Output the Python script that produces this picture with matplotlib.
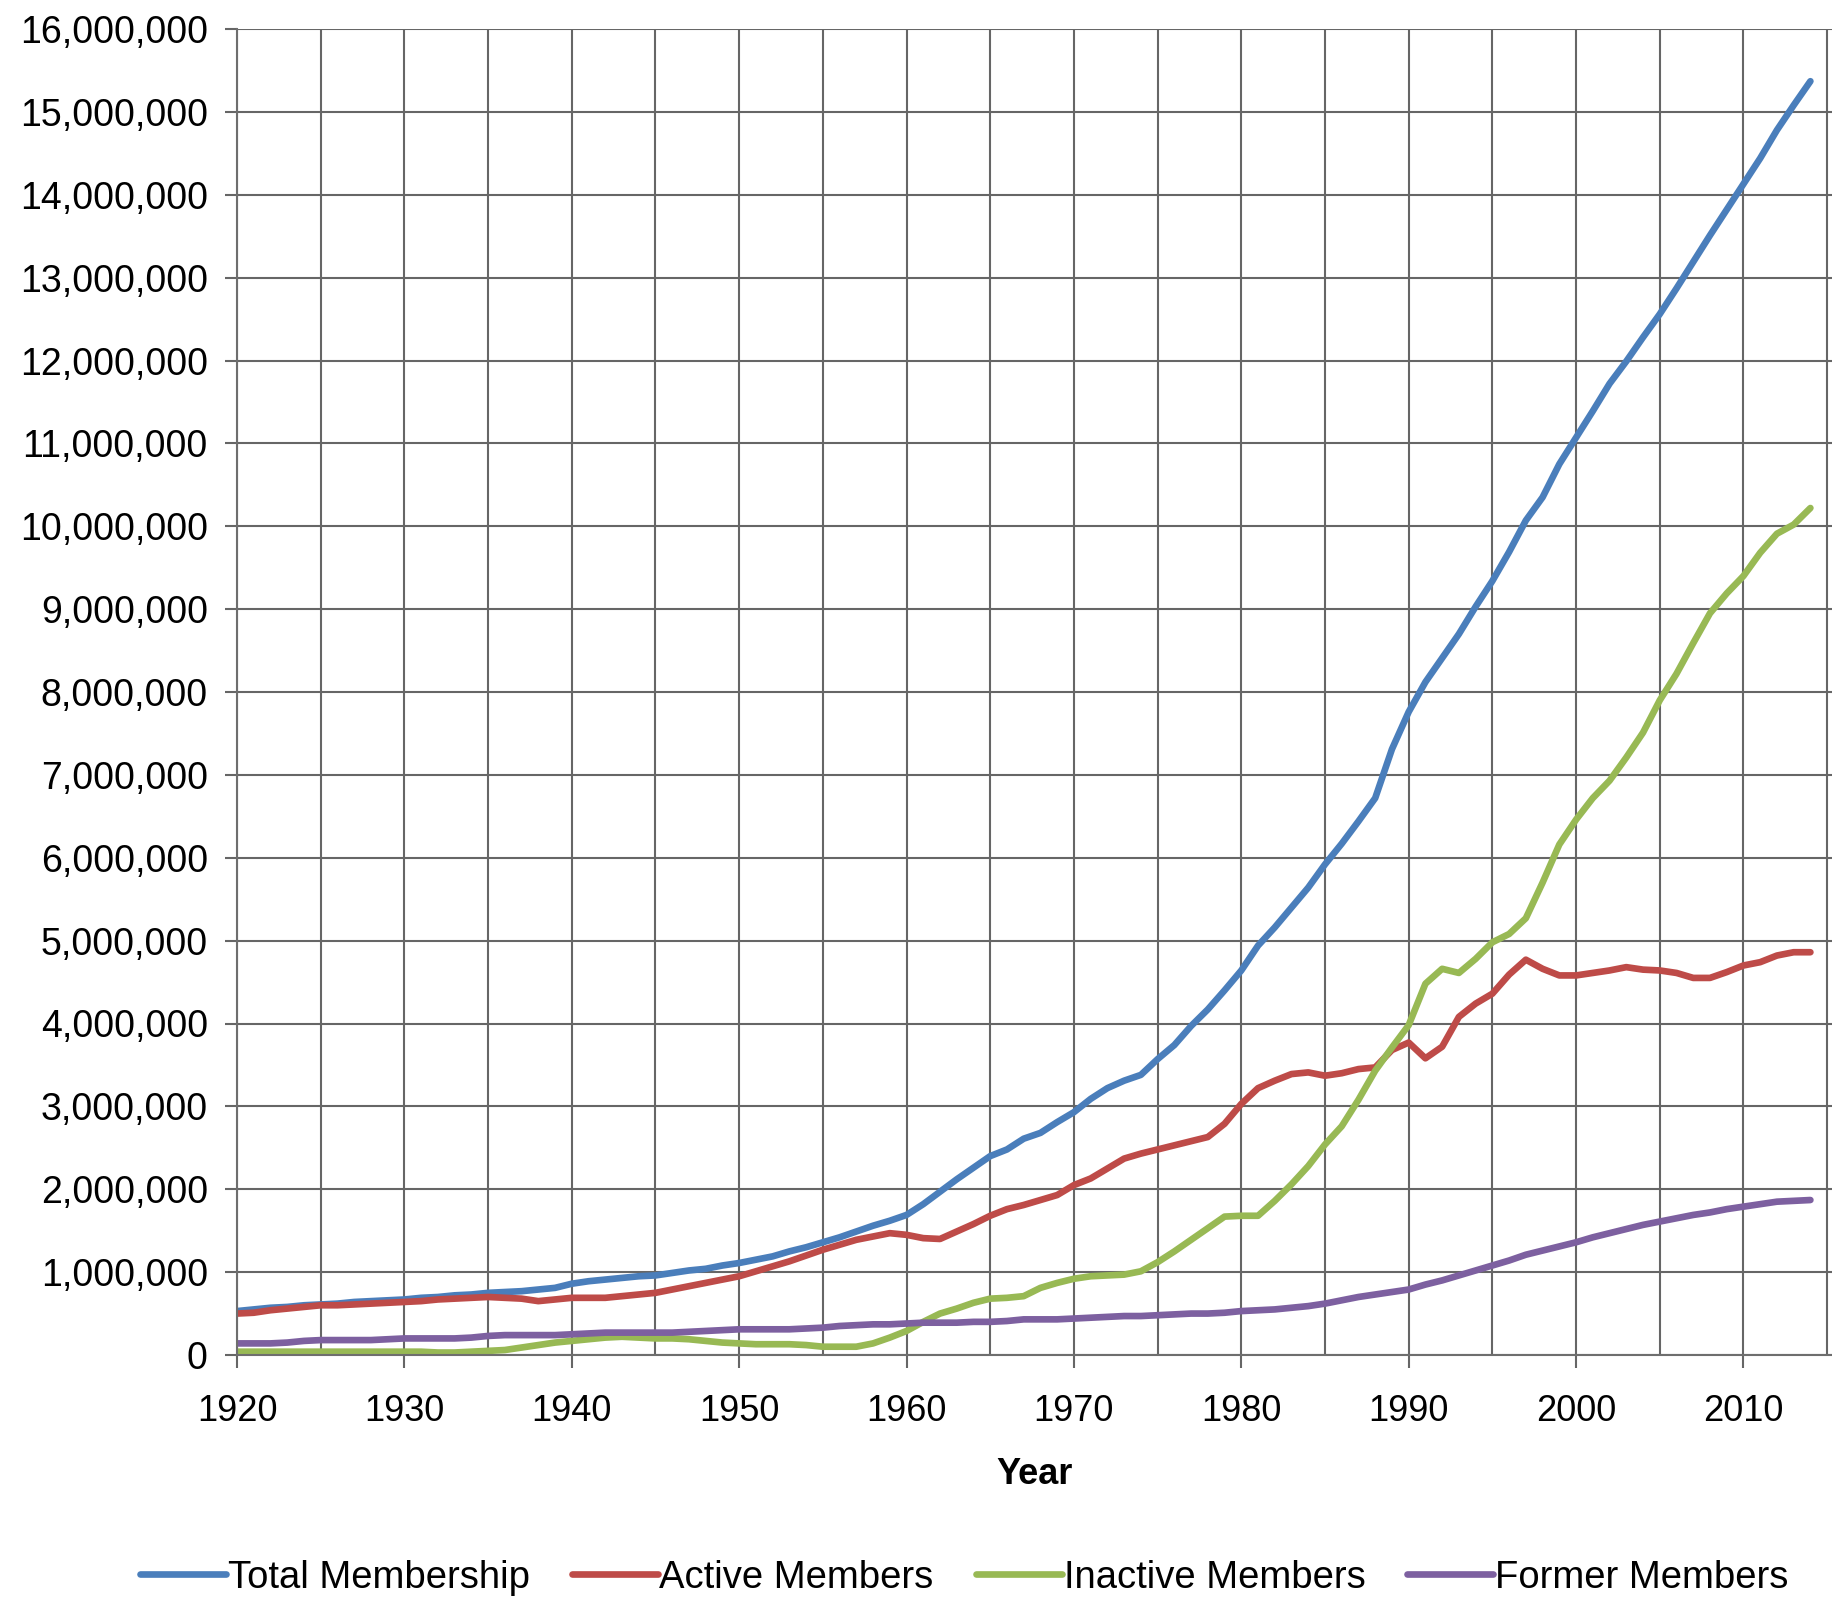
import numpy as np
import matplotlib
matplotlib.use('Agg')
import matplotlib.pyplot as plt
import matplotlib as mpl
from matplotlib.ticker import FuncFormatter, MultipleLocator

# data (millions)
years = list(range(1920, 2015))

total = [0.53, 0.55, 0.57, 0.58, 0.60, 0.61, 0.62, 0.64, 0.65, 0.66,
         0.67, 0.69, 0.70, 0.72, 0.73, 0.75, 0.76, 0.77, 0.79, 0.81,
         0.86, 0.89, 0.91, 0.93, 0.95, 0.96, 0.99, 1.02, 1.04, 1.08,
         1.11, 1.15, 1.19, 1.25, 1.30, 1.36, 1.42, 1.49, 1.56, 1.62,
         1.69, 1.82, 1.97, 2.12, 2.26, 2.40, 2.48, 2.61, 2.68, 2.81,
         2.93, 3.09, 3.22, 3.31, 3.38, 3.57, 3.74, 3.97, 4.17, 4.40,
         4.64, 4.94, 5.16, 5.40, 5.64, 5.92, 6.17, 6.44, 6.72, 7.31,
         7.76, 8.12, 8.41, 8.70, 9.03, 9.34, 9.69, 10.07, 10.35, 10.75,
         11.07, 11.39, 11.72, 11.99, 12.28, 12.56, 12.87, 13.19, 13.51, 13.82,
         14.13, 14.44, 14.78, 15.08, 15.37]

active = [0.50, 0.51, 0.54, 0.56, 0.58, 0.60, 0.60, 0.61, 0.62, 0.63,
          0.64, 0.65, 0.67, 0.68, 0.69, 0.70, 0.69, 0.68, 0.65, 0.67,
          0.69, 0.69, 0.69, 0.71, 0.73, 0.75, 0.79, 0.83, 0.87, 0.91,
          0.95, 1.01, 1.07, 1.13, 1.20, 1.27, 1.33, 1.39, 1.43, 1.47,
          1.45, 1.41, 1.40, 1.49, 1.58, 1.68, 1.76, 1.81, 1.87, 1.93,
          2.05, 2.13, 2.25, 2.37, 2.43, 2.48, 2.53, 2.58, 2.63, 2.79,
          3.03, 3.22, 3.31, 3.39, 3.41, 3.37, 3.40, 3.45, 3.47, 3.68,
          3.77, 3.58, 3.72, 4.08, 4.24, 4.36, 4.59, 4.77, 4.66, 4.58,
          4.58, 4.61, 4.64, 4.68, 4.65, 4.64, 4.61, 4.55, 4.55, 4.62,
          4.70, 4.74, 4.82, 4.86, 4.86]

inactive = [0.04, 0.04, 0.04, 0.04, 0.04, 0.04, 0.04, 0.04, 0.04, 0.04,
            0.04, 0.04, 0.03, 0.03, 0.04, 0.05, 0.06, 0.09, 0.12, 0.15,
            0.17, 0.19, 0.21, 0.22, 0.21, 0.20, 0.20, 0.19, 0.17, 0.15,
            0.14, 0.13, 0.13, 0.13, 0.12, 0.10, 0.10, 0.10, 0.14, 0.21,
            0.29, 0.40, 0.50, 0.56, 0.63, 0.68, 0.69, 0.71, 0.81, 0.87,
            0.92, 0.95, 0.96, 0.97, 1.01, 1.12, 1.25, 1.39, 1.53, 1.67,
            1.68, 1.68, 1.86, 2.06, 2.28, 2.54, 2.76, 3.08, 3.43, 3.71,
            3.98, 4.48, 4.66, 4.61, 4.78, 4.98, 5.08, 5.27, 5.70, 6.16,
            6.46, 6.72, 6.93, 7.21, 7.51, 7.90, 8.22, 8.59, 8.95, 9.19,
            9.40, 9.68, 9.91, 10.02, 10.22]

former = [0.14, 0.14, 0.14, 0.15, 0.17, 0.18, 0.18, 0.18, 0.18, 0.19,
          0.20, 0.20, 0.20, 0.20, 0.21, 0.23, 0.24, 0.24, 0.24, 0.24,
          0.25, 0.26, 0.27, 0.27, 0.27, 0.27, 0.27, 0.28, 0.29, 0.30,
          0.31, 0.31, 0.31, 0.31, 0.32, 0.33, 0.35, 0.36, 0.37, 0.37,
          0.38, 0.39, 0.39, 0.39, 0.40, 0.40, 0.41, 0.43, 0.43, 0.43,
          0.44, 0.45, 0.46, 0.47, 0.47, 0.48, 0.49, 0.50, 0.50, 0.51,
          0.53, 0.54, 0.55, 0.57, 0.59, 0.62, 0.66, 0.70, 0.73, 0.76,
          0.79, 0.85, 0.90, 0.96, 1.02, 1.08, 1.14, 1.21, 1.26, 1.31,
          1.36, 1.42, 1.47, 1.52, 1.57, 1.61, 1.65, 1.69, 1.72, 1.76,
          1.79, 1.82, 1.85, 1.86, 1.87]

labels = ['Total Membership', 'Active Members', 'Inactive Members', 'Former Members']
colors = ['#4A7EBB', '#BE4B48', '#98B954', '#7D60A0']

# drawing style
mpl.rcParams['font.family'] = ['Liberation Sans', 'DejaVu Sans']
mpl.rcParams['font.size'] = 26
mpl.rcParams['axes.linewidth'] = 1.5
mpl.rcParams['axes.edgecolor'] = '#6e6e6e'

fig = plt.figure(figsize=(18.33, 15.97), dpi=100)
ax = fig.add_axes([237/1833, 1 - 1355/1597, 1 - 237/1833, (1355 - 29)/1597])

for series, lab, col in zip([total, active, inactive, former], labels, colors):
    ax.plot(years, np.array(series)*1e6, color=col, lw=4.8, label=lab,
            solid_capstyle='round', solid_joinstyle='round')

ax.set_xlim(1920, 2015.35)
ax.set_ylim(0, 16e6)
ax.xaxis.set_major_locator(MultipleLocator(10))
ax.xaxis.set_minor_locator(MultipleLocator(5))
ax.yaxis.set_major_locator(MultipleLocator(1e6))
ax.yaxis.set_major_formatter(FuncFormatter(lambda v, p: f'{v:,.0f}'))

ax.grid(True, which='both', axis='x', color='#666666', lw=1.5)
ax.grid(True, which='major', axis='y', color='#666666', lw=1.5)
ax.set_axisbelow(True)

ax.tick_params(axis='x', which='major', direction='out', length=9, width=1.5,
               color='#666666', pad=19, labelsize=26)
ax.tick_params(axis='x', which='minor', length=0)
ax.tick_params(axis='y', direction='out', length=9, width=1.5,
               color='#666666', pad=12, labelsize=27)

for s in ['top', 'right']:
    ax.spines[s].set_visible(False)

ax.set_xlabel('Year', fontweight='bold', fontsize=26, labelpad=20)

fig.legend(loc='center', bbox_to_anchor=(0.526, 0.012), ncol=4, frameon=False,
           handlelength=2.25, handletextpad=0.05, columnspacing=1.1, fontsize=27.5)

fig.savefig('out.png', dpi=100)
